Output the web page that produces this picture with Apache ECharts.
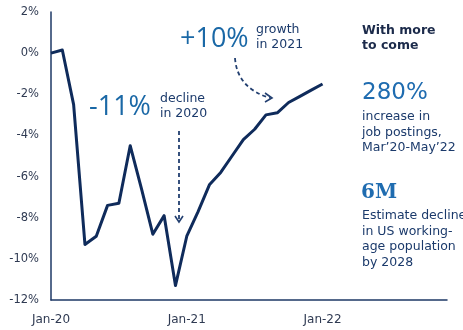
<!DOCTYPE html>
<html>
<head>
<meta charset="utf-8">
<script src="https://cdn.jsdelivr.net/npm/echarts@6/dist/echarts.min.js"></script>
<style>
  html, body { margin: 0; padding: 0; background: #fff; }
  #chart { width: 463px; height: 330px; }
</style>
</head>
<body>
<div id="chart"></div>
<script>
// Monthly axis, Jan-20 through Dec-22
const months = [
  'Jan-20','Feb-20','Mar-20','Apr-20','May-20','Jun-20','Jul-20','Aug-20','Sep-20','Oct-20','Nov-20','Dec-20',
  'Jan-21','Feb-21','Mar-21','Apr-21','May-21','Jun-21','Jul-21','Aug-21','Sep-21','Oct-21','Nov-21','Dec-21',
  'Jan-22','Feb-22','Mar-22','Apr-22','May-22','Jun-22','Jul-22','Aug-22','Sep-22','Oct-22','Nov-22','Dec-22'
];
// Labels shown on the x axis
const xTickLabels = ['Jan-20', 'Jan-21', 'Jan-22'];
// Change in US employment vs. Jan-20 (%), Jan-20 to Jan-22
const employmentChange = [
  0, 0.15, -2.5, -9.3, -8.9, -7.4, -7.3, -4.5, -6.6, -8.8, -7.9, -11.3,
  -8.9, -7.7, -6.4, -5.8, -5.0, -4.2, -3.7, -3.0, -2.9, -2.4, -2.1, -1.8,
  -1.5
];
const yMin = -12, yMax = 2, yStep = 2;

const navy = '#0f2b5b';
const axisNavy = '#1e3866';
const labelGrey = '#2f3a52';
const blue = '#1f6cb0';
const sans = '"DejaVu Sans", Verdana, sans-serif';
const light = '"Open Sans", sans-serif';

const chart = echarts.init(document.getElementById('chart'), null, { renderer: 'canvas' });

chart.setOption({
  animation: false,
  backgroundColor: '#ffffff',
  grid: { left: 51, right: 16, top: 12, bottom: 30 },
  xAxis: {
    type: 'category',
    data: months,
    boundaryGap: false,
    axisLine: { show: true, onZero: false, lineStyle: { color: axisNavy, width: 1.5 } },
    axisTick: { show: false },
    splitLine: { show: false },
    axisLabel: {
      interval: 0,
      margin: 14,
      color: labelGrey,
      fontFamily: sans,
      fontSize: 12,
      formatter: v => (xTickLabels.indexOf(v) >= 0 ? v : '')
    }
  },
  yAxis: {
    type: 'value',
    min: yMin,
    max: yMax,
    interval: yStep,
    axisLine: { show: true, lineStyle: { color: axisNavy, width: 1.5 } },
    axisTick: { show: false },
    splitLine: { show: false },
    axisLabel: {
      margin: 12,
      color: labelGrey,
      fontFamily: sans,
      fontSize: 11.5,
      formatter: '{value}%'
    }
  },
  series: [{
    type: 'line',
    data: employmentChange,
    showSymbol: false,
    symbol: 'none',
    lineStyle: { color: navy, width: 3, join: 'round' },
    z: 5
  }],
  graphic: [
    // 2020 decline callout
    { type: 'text', left: 89, top: 94, style: { text: '-11%', font: '27px ' + light, fill: '#1a68a6' } },
    { type: 'text', left: 160, top: 91, style: { text: 'decline\nin 2020', font: '12.5px ' + sans, fill: '#1b3a6b', lineHeight: 15 } },
    { type: 'line', shape: { x1: 179, y1: 131, x2: 179, y2: 221 },
      style: { stroke: '#223f70', lineWidth: 1.8, lineDash: [4, 3] } },
    { type: 'polyline', shape: { points: [[175, 216], [179, 222], [183, 216]] },
      style: { stroke: '#223f70', lineWidth: 1.6, fill: null } },

    // 2021 growth callout
    { type: 'text', left: 180, top: 26, style: { text: '+10%', font: '27px ' + light, fill: '#1a68a6' } },
    { type: 'text', left: 256, top: 22, style: { text: 'growth\nin 2021', font: '12.5px ' + sans, fill: '#1b3a6b', lineHeight: 15 } },
    { type: 'bezierCurve', shape: { x1: 235, y1: 58, cpx1: 237, cpy1: 88, x2: 270, y2: 98 },
      style: { stroke: '#223f70', lineWidth: 1.8, lineDash: [4, 3], fill: null } },
    { type: 'polyline', shape: { points: [[265, 93], [272, 98], [265, 102]] },
      style: { stroke: '#223f70', lineWidth: 1.6, fill: null } },

    // Side panel
    { type: 'text', left: 362, top: 23, style: { text: 'With more\nto come', font: 'bold 12.5px ' + sans, fill: '#1b2a4a', lineHeight: 15 } },
    { type: 'text', left: 362, top: 82, style: { text: '280%', font: '23px ' + sans, fill: blue } },
    { type: 'text', left: 362, top: 109, style: { text: 'increase in\njob postings,\nMar\u201920-May\u201922', font: '12.5px ' + sans, fill: '#1b3a6b', lineHeight: 15.5 } },
    { type: 'text', left: 361, top: 183, style: { text: '6M', font: 'bold 20px "DejaVu Serif", serif', fill: blue } },
    { type: 'text', left: 362, top: 208, style: { text: 'Estimate decline\nin US working-\nage population\nby 2028', font: '12.5px ' + sans, fill: '#1b3a6b', lineHeight: 15.5 } }
  ]
});
</script>
</body>
</html>
